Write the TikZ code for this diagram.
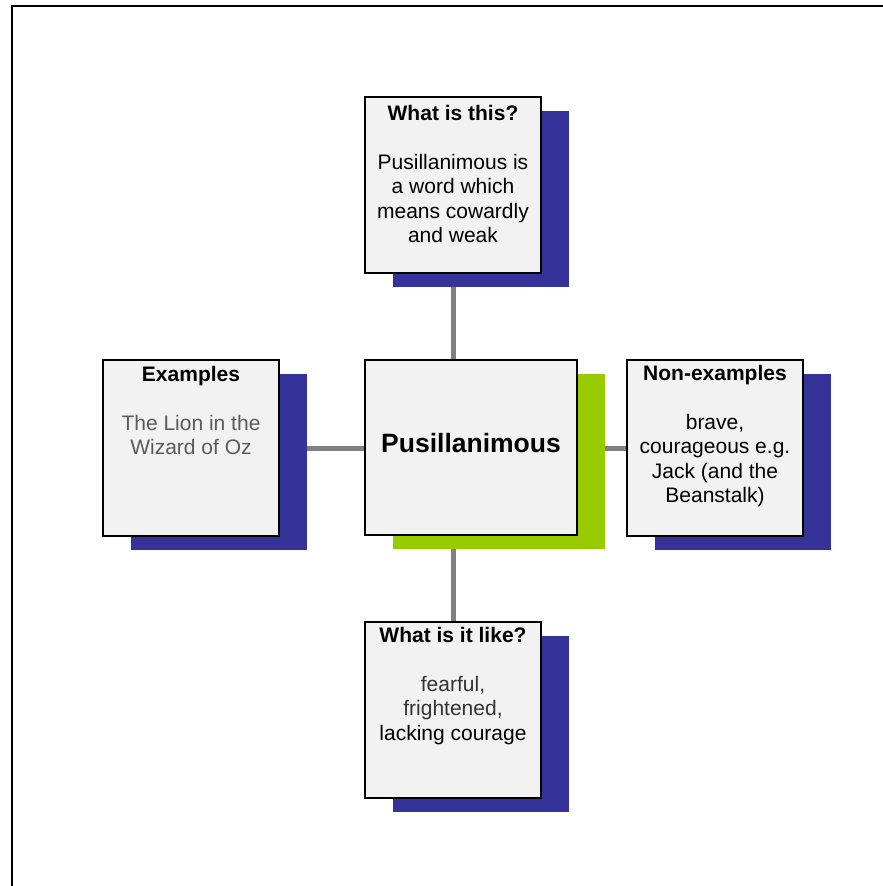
\documentclass[tikz,border=0pt]{standalone}
\usepackage{fontspec}
\setmainfont{Liberation Sans}
\usetikzlibrary{shadows,backgrounds}
\definecolor{shblue}{HTML}{333399}
\definecolor{shgreen}{HTML}{99CC00}
\definecolor{boxfill}{HTML}{F2F2F2}
\definecolor{linkgray}{HTML}{808080}
\definecolor{lgraytxt}{HTML}{5A5A5A}
\definecolor{dgraytxt}{HTML}{333333}
\newcommand{\topstrutx}{\rule{0pt}{16pt}}
\begin{document}
\begin{tikzpicture}[x=1pt,y=-1pt,
  conceptbox/.style={draw=black, line width=1.5pt, fill=boxfill, inner sep=0pt,
    minimum width=176pt, minimum height=176pt,
    drop shadow={shadow xshift=27.5pt, shadow yshift=-14pt, fill=shblue, opacity=1}},
  mainbox/.style={conceptbox, minimum width=212pt, minimum height=175pt,
    drop shadow={shadow xshift=27.5pt, shadow yshift=-14pt, fill=shgreen, opacity=1}},
  boxtext/.style={anchor=north, inner sep=0pt, align=center,
    font=\fontsize{21pt}{24.5pt}\selectfont},
  link/.style={draw=linkgray, line width=5pt},
  frameline/.style={draw=black, line width=2pt}
]
\useasboundingbox (0,0) rectangle (883,886);
\draw[frameline] (11.5,886) -- (11.5,6) -- (883,6);

\node[conceptbox] (what) at (453,185) {};
\node[mainbox] (center) at (471,447.5) {};
\node[conceptbox] (ex) at (191,448) {};
\node[conceptbox] (nonex) at (715,448) {};
\node[conceptbox] (like) at (453,710) {};

\begin{scope}[on background layer]
  \draw[link] (what) -- (what |- center);
  \draw[link] (like) -- (like |- center);
  \draw[link] (ex) -- (ex -| center);
  \draw[link] (nonex) -- (nonex -| center);
\end{scope}

\node[boxtext] (whattxt) at (453,104)
  {\topstrutx\textbf{What is this?}\\[24.5pt]
   Pusillanimous is\\ a word which\\ means cowardly\\ and weak};
\node[anchor=base, inner sep=0pt, font=\bfseries\fontsize{26.5pt}{30pt}\selectfont]
  (centertxt) at (471,452) {Pusillanimous};
\node[boxtext] (extxt) at (191,365)
  {\topstrutx\textbf{Examples}\\[24.5pt]
   \textcolor{lgraytxt}{The Lion in the}\\ \textcolor{lgraytxt}{Wizard of Oz}};
\node[boxtext] (nonextxt) at (715,364)
  {\topstrutx\textbf{Non-examples}\\[24.5pt]
   brave,\\ courageous e.g.\\ Jack (and the\\ Beanstalk)};
\node[boxtext] (liketxt) at (453,626)
  {\topstrutx\textbf{What is it like?}\\[24.5pt]
   \textcolor{dgraytxt}{fearful,}\\ \textcolor{dgraytxt}{frightened,}\\ lacking courage};
\end{tikzpicture}
\end{document}
